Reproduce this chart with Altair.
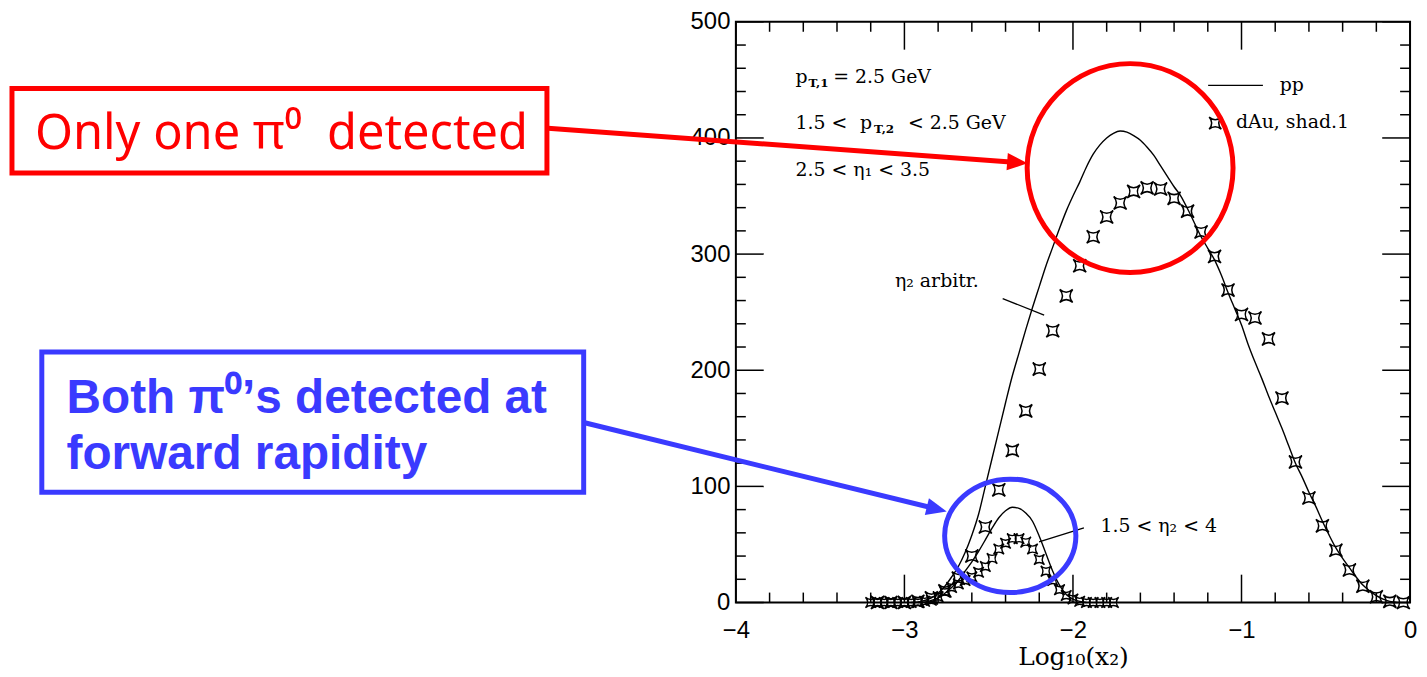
import altair as alt
import pandas as pd

# ---------------- data ----------------
pp_x = [-2.96, -2.90, -2.84, -2.80, -2.76, -2.72, -2.68, -2.64, -2.60, -2.56, -2.52, -2.48,
        -2.44, -2.40, -2.36, -2.32, -2.28, -2.24, -2.20, -2.16, -2.12, -2.08, -2.04, -2.00,
        -1.96, -1.92, -1.88, -1.84, -1.80, -1.76, -1.72, -1.68, -1.64, -1.60, -1.56, -1.52,
        -1.48, -1.44, -1.40, -1.36, -1.32, -1.28, -1.24, -1.20, -1.16, -1.12, -1.08, -1.04,
        -1.00, -0.96, -0.92, -0.88, -0.84, -0.80, -0.76, -0.72, -0.68, -0.64, -0.60, -0.56,
        -0.52, -0.48, -0.44, -0.40, -0.36, -0.32, -0.28, -0.24, -0.20, -0.16, -0.12, -0.08]
pp_y = [0, 1, 4, 8, 14, 22, 31, 43, 58, 76, 100, 124,
        148, 172, 195, 215, 235, 254, 272, 290, 306, 322, 337, 350,
        362, 375, 386, 394, 400, 404, 406, 405, 402, 398, 392, 385,
        376, 367, 358, 350, 339, 327, 315, 305, 295, 282, 267, 253,
        239, 222, 207, 193, 178, 164, 150, 135, 120, 108, 95, 83,
        70, 58, 47, 38, 30, 22, 15, 10, 6, 3, 1, 0]

dau_x = [-3.16, -3.08, -3.00, -2.92, -2.84, -2.76, -2.68, -2.60, -2.52, -2.44,
         -2.36, -2.28, -2.20, -2.12, -2.04, -1.96, -1.88, -1.80, -1.72, -1.64,
         -1.56, -1.48, -1.40, -1.32, -1.24, -1.16, -1.08, -1.00, -0.92, -0.84,
         -0.76, -0.68, -0.60, -0.52, -0.44, -0.36, -0.28, -0.20, -0.12, -0.04]
dau_y = [0, 0, 0, 1, 4, 10, 21, 40, 65, 97,
         131, 165, 201, 234, 264, 290, 315, 332, 344, 354,
         357, 356, 348, 337, 319, 298, 269, 248, 245, 227,
         176, 121, 90, 66, 45, 28, 14, 5, 1, 0]

eta_x = [-2.92, -2.86, -2.80, -2.76, -2.72, -2.68, -2.64, -2.60, -2.56, -2.52, -2.48, -2.44,
         -2.40, -2.36, -2.32, -2.28, -2.24, -2.20, -2.16, -2.12, -2.08, -2.04, -2.00, -1.96, -1.92]
eta_y = [0, 1, 4, 8, 13, 19, 27, 35, 44, 54, 64, 73,
         79, 82, 81, 77, 70, 57, 42, 27, 15, 7, 3, 1, 0]

etad_x = [-3.20, -3.16, -3.12, -3.08, -3.04, -3.00, -2.96, -2.92, -2.88, -2.84, -2.80, -2.76,
          -2.72, -2.68, -2.64, -2.60, -2.56, -2.52, -2.48, -2.44, -2.40, -2.36, -2.32, -2.28,
          -2.24, -2.20, -2.16, -2.12, -2.08, -2.04, -2.00, -1.96, -1.92, -1.88, -1.84, -1.80, -1.76]
etad_y = [0, 0, 0, 0, 0, 0, 0, 0, 1, 2, 5, 9,
          13, 16, 19, 22, 26, 31, 38, 46, 51, 55, 55, 52,
          46, 37, 27, 19, 11, 6, 3, 1, 0, 0, 0, 0, 0]

x_major = [-4, -3, -2, -1, 0]
x_minor = [-3.8, -3.6, -3.4, -3.2, -2.8, -2.6, -2.4, -2.2, -1.8, -1.6, -1.4, -1.2,
           -0.8, -0.6, -0.4, -0.2]
y_major = [0, 100, 200, 300, 400, 500]
y_minor = [20, 40, 60, 80, 120, 140, 160, 180, 220, 240, 260, 280, 320, 340, 360, 380,
           420, 440, 460, 480]

# in-plot labels (data units)
lab_x = [-3.646, -3.422, -3.646, -3.263, -2.979, -3.646, -3.056, -1.837, -0.773, -1.033]
lab_y = [446.9, 446.9, 407.5, 407.5, 407.5, 367.3, 271.7, 60.5, 440.1, 408.4]
lab_t = ["p", "= 2.5 GeV", "1.5 <", "p", "< 2.5 GeV", "2.5 < η₁ < 3.5", "η₂ arbitr.",
         "1.5 < η₂ < 4", "pp", "dAu, shad.1"]
sub_x = [-3.569, -3.180]
sub_y = [446.9, 407.5]
sub_t = ["T,1", "T,2"]

# pointer lines & legend line (data units)
ptr_x = [-2.417, -2.201, -1.198]
ptr_x2 = [-2.171, -1.935, -0.873]
ptr_y = [261.7, 52.2, 445.2]
ptr_y2 = [247.4, 64.2, 445.2]
leg_mark_x = [-1.156]
leg_mark_y = [412.7]

# slide annotations (data units of the same scales)
box_x = [-8.295, -8.118]
box_x2 = [-5.121, -4.903]
box_y = [442.6, 215.8]
box_y2 = [369.9, 95.0]
box_c = ["red", "blue"]
red_text = "Only one π⁰\u00a0 detected"
blue_text = ["Both π⁰’s detected at", "forward rapidity"]
arrow_x = [-5.115, -4.903]
arrow_x2 = [-2.330, -2.808]
arrow_y = [408.4, 155.0]
arrow_y2 = [378.9, 80.5]
ell_x = [-1.661, -2.372]
ell_y = [374.1, 57.4]

RED = "#ff0000"
BLUE = "#3a3aff"
W, H = 678, 584

STAR = "M -1 -1 Q 0 -0.15 1 -1 Q 0.15 0 1 1 Q 0 0.15 -1 1 Q -0.15 0 -1 -1 Z"
ELL_RED = "M -0.986 0 A 0.986 1 0 1 0 0.986 0 A 0.986 1 0 1 0 -0.986 0 Z"
ELL_BLUE = "M -1 0 A 1 0.864 0 1 0 1 0 A 1 0.864 0 1 0 -1 0 Z"
HEAD = "M -1 -0.85 L 1 0 L -1 0.85 Z"

xscale = alt.Scale(domain=[-4, 0], nice=False, zero=False)
yscale = alt.Scale(domain=[0, 500], nice=False, zero=False)
xaxis = alt.Axis(values=x_major, ticks=False, domain=False, grid=False, labelFontSize=24,
                 labelFont="Liberation Sans", labelColor="black", labelPadding=16,
                 labelFlush=False, title="Log₁₀(x₂)", titleFont="DejaVu Serif",
                 titleFontSize=25, titleFontWeight="normal", titleColor="black", titlePadding=2)
yaxis = alt.Axis(values=y_major, ticks=False, domain=False, grid=False, labelFontSize=24,
                 labelFont="Liberation Sans", labelColor="black", labelPadding=6,
                 labelFlush=False, title="")


def X(f):
    return alt.X(f, type="quantitative", scale=xscale, axis=xaxis)


def Y(f):
    return alt.Y(f, type="quantitative", scale=yscale, axis=yaxis)


pp_df = pd.DataFrame({"x": pp_x, "y": pp_y})
dau_df = pd.DataFrame({"x": dau_x, "y": dau_y})
eta_df = pd.DataFrame({"x": eta_x, "y": eta_y})
etad_df = pd.DataFrame({"x": etad_x, "y": etad_y})
xmaj_df = pd.DataFrame({"x": x_major})
xmin_df = pd.DataFrame({"x": x_minor})
ymaj_df = pd.DataFrame({"y": y_major})
ymin_df = pd.DataFrame({"y": y_minor})

tick_style = dict(color="black", strokeWidth=1.5)
ticks = [
    alt.Chart(xmaj_df).mark_rule(**tick_style).encode(x=X("x"), y=alt.value(H), y2=alt.value(H - 28)),
    alt.Chart(xmaj_df).mark_rule(**tick_style).encode(x=X("x"), y=alt.value(0), y2=alt.value(28)),
    alt.Chart(xmin_df).mark_rule(**tick_style).encode(x=X("x"), y=alt.value(H), y2=alt.value(H - 10)),
    alt.Chart(xmin_df).mark_rule(**tick_style).encode(x=X("x"), y=alt.value(0), y2=alt.value(10)),
    alt.Chart(ymaj_df).mark_rule(**tick_style).encode(y=Y("y"), x=alt.value(0), x2=alt.value(28)),
    alt.Chart(ymaj_df).mark_rule(**tick_style).encode(y=Y("y"), x=alt.value(W), x2=alt.value(W - 28)),
    alt.Chart(ymin_df).mark_rule(**tick_style).encode(y=Y("y"), x=alt.value(0), x2=alt.value(10)),
    alt.Chart(ymin_df).mark_rule(**tick_style).encode(y=Y("y"), x=alt.value(W), x2=alt.value(W - 10)),
]

line_pp = alt.Chart(pp_df).mark_line(color="black", strokeWidth=1.4, interpolate="monotone").encode(
    x=X("x"), y=Y("y"))
line_eta = alt.Chart(eta_df).mark_line(color="black", strokeWidth=1.4, interpolate="monotone").encode(
    x=X("x"), y=Y("y"))
pts_dau = alt.Chart(dau_df).mark_point(shape=STAR, size=170, filled=False, color="black",
                                       strokeWidth=1.5, opacity=1).encode(x=X("x"), y=Y("y"))
pts_etad = alt.Chart(etad_df).mark_point(shape=STAR, size=110, filled=False, color="black",
                                         strokeWidth=1.4, opacity=1).encode(x=X("x"), y=Y("y"))
pts_leg = alt.Chart(pd.DataFrame({"x": leg_mark_x, "y": leg_mark_y})).mark_point(
    shape=STAR, size=150, filled=False, color="black", strokeWidth=1.5, opacity=1).encode(
    x=X("x"), y=Y("y"))

ptr = alt.Chart(pd.DataFrame({"x": ptr_x, "x2": ptr_x2, "y": ptr_y, "y2": ptr_y2})).mark_rule(
    color="black", strokeWidth=1.3).encode(x=X("x"), x2="x2:Q", y=Y("y"), y2="y2:Q")

labels = alt.Chart(pd.DataFrame({"x": lab_x, "y": lab_y, "t": lab_t})).mark_text(
    align="left", baseline="alphabetic", font="DejaVu Serif", fontSize=19, color="black").encode(
    x=X("x"), y=Y("y"), text="t:N")
subs = alt.Chart(pd.DataFrame({"x": sub_x, "y": sub_y, "t": sub_t})).mark_text(
    align="left", baseline="alphabetic", font="DejaVu Serif", fontSize=12, fontWeight="bold",
    color="black", dy=4).encode(x=X("x"), y=Y("y"), text="t:N")

# slide annotations
boxes = alt.Chart(pd.DataFrame({"x": box_x, "x2": box_x2, "y": box_y, "y2": box_y2, "c": box_c})).mark_rect(
    fillOpacity=0, strokeWidth=5).encode(
    x=X("x"), x2="x2:Q", y=Y("y"), y2="y2:Q",
    stroke=alt.Stroke("c:N", scale=alt.Scale(domain=["red", "blue"], range=[RED, BLUE]), legend=None))

red_t = alt.Chart(pd.DataFrame({"x": [-8.159], "y": [390.4], "t": [red_text]})).mark_text(
    align="left", baseline="alphabetic", font="Noto Sans", fontSize=49, color=RED).encode(
    x=X("x"), y=Y("y"), text="t:N")
blue_t = alt.Chart(pd.DataFrame({"x": [-7.971, -7.971], "y": [163.5, 114.7], "t": blue_text})).mark_text(
    align="left", baseline="alphabetic", font="Liberation Sans", fontWeight="bold", fontSize=48,
    color=BLUE).encode(x=X("x"), y=Y("y"), text="t:N")

arrows = alt.Chart(pd.DataFrame({"x": arrow_x, "x2": arrow_x2, "y": arrow_y, "y2": arrow_y2,
                                 "c": ["red", "blue"]})).mark_rule(strokeWidth=5).encode(
    x=X("x"), x2="x2:Q", y=Y("y"), y2="y2:Q",
    color=alt.Color("c:N", scale=alt.Scale(domain=["red", "blue"], range=[RED, BLUE]), legend=None))
head_r = alt.Chart(pd.DataFrame({"x": [arrow_x2[0]], "y": [arrow_y2[0]]})).mark_point(
    shape=HEAD, size=420, filled=True, color=RED, opacity=1, angle=4.2).encode(x=X("x"), y=Y("y"))
head_b = alt.Chart(pd.DataFrame({"x": [arrow_x2[1]], "y": [arrow_y2[1]]})).mark_point(
    shape=HEAD, size=420, filled=True, color=BLUE, opacity=1, angle=13.8).encode(x=X("x"), y=Y("y"))

ell_r = alt.Chart(pd.DataFrame({"x": [ell_x[0]], "y": [ell_y[0]]})).mark_point(
    shape=ELL_RED, size=210 * 210, filled=False, color=RED, strokeWidth=5, opacity=1).encode(
    x=X("x"), y=Y("y"))
ell_b = alt.Chart(pd.DataFrame({"x": [ell_x[1]], "y": [ell_y[1]]})).mark_point(
    shape=ELL_BLUE, size=132 * 132, filled=False, color=BLUE, strokeWidth=5, opacity=1).encode(
    x=X("x"), y=Y("y"))

chart = alt.layer(
    *ticks, line_pp, line_eta, pts_dau, pts_etad, pts_leg, ptr, labels, subs,
    boxes, red_t, blue_t, arrows, head_r, head_b, ell_r, ell_b
).resolve_scale(color="independent", stroke="independent").properties(
    width=W, height=H,
    autosize=alt.AutoSizeParams(type="none"),
    padding={"left": 732, "top": 12, "right": 9, "bottom": 73},
    background="white",
).configure_view(stroke="black", strokeWidth=2)

chart.save("out.html", embed_options={"renderer": "svg", "actions": False})
